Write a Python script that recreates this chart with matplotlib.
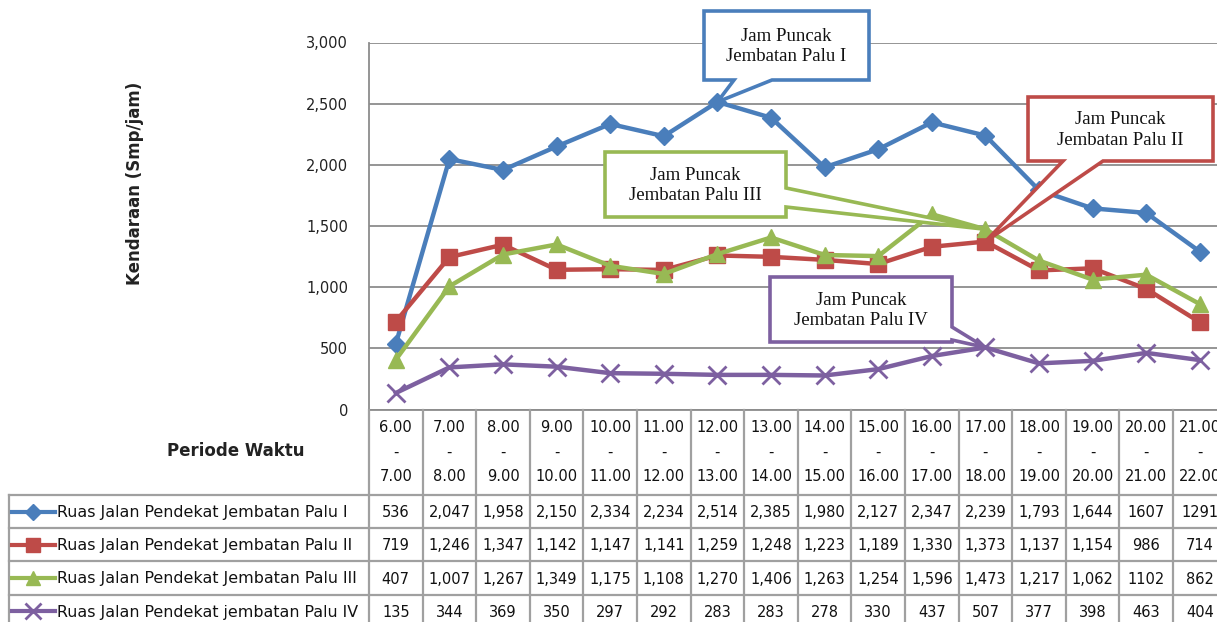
import matplotlib
matplotlib.use("Agg")
import matplotlib.pyplot as plt
from matplotlib.patches import Polygon
from matplotlib.ticker import FuncFormatter
import numpy as np

# ---------------- data ----------------
period_start = ["6.00", "7.00", "8.00", "9.00", "10.00", "11.00", "12.00", "13.00",
                "14.00", "15.00", "16.00", "17.00", "18.00", "19.00", "20.00", "21.00"]
period_end = ["7.00", "8.00", "9.00", "10.00", "11.00", "12.00", "13.00", "14.00",
              "15.00", "16.00", "17.00", "18.00", "19.00", "20.00", "21.00", "22.00"]
series_names = ["Ruas Jalan Pendekat Jembatan Palu I",
                "Ruas Jalan Pendekat Jembatan Palu II",
                "Ruas Jalan Pendekat Jembatan Palu III",
                "Ruas Jalan Pendekat jembatan Palu IV"]
palu1 = [536, 2047, 1958, 2150, 2334, 2234, 2514, 2385, 1980, 2127, 2347, 2239, 1793, 1644, 1607, 1291]
palu2 = [719, 1246, 1347, 1142, 1147, 1141, 1259, 1248, 1223, 1189, 1330, 1373, 1137, 1154, 986, 714]
palu3 = [407, 1007, 1267, 1349, 1175, 1108, 1270, 1406, 1263, 1254, 1596, 1473, 1217, 1062, 1102, 862]
palu4 = [135, 344, 369, 350, 297, 292, 283, 283, 278, 330, 437, 507, 377, 398, 463, 404]
callout_texts = ["Jam Puncak\nJembatan Palu I", "Jam Puncak\nJembatan Palu II",
                 "Jam Puncak\nJembatan Palu III", "Jam Puncak\nJembatan Palu IV"]
callout_idx = [6, 11, 11, 11]
no_comma_from = 14   # last two columns are shown without thousands separator
y_label = "Kendaraan (Smp/jam)"
x_label = "Periode Waktu"

series = [palu1, palu2, palu3, palu4]
colors = ["#4A7EBB", "#BE4B48", "#98B954", "#7D60A0"]
markers = ["D", "s", "^", "x"]
msizes = [9, 12, 12, 13]

# ---------------- layout (pixels) ----------------
W, H = 1217, 622
fig = plt.figure(figsize=(W / 100, H / 100), dpi=100)
n = len(period_start)
colw = 53.6
x0 = 369
x1 = x0 + n * colw
ytop, ybot = 42.5, 409.5

def fx(px):
    return px / W

def fy(py):
    return 1 - py / H

ax = fig.add_axes([fx(x0), fy(ybot), (x1 - x0) / W, (ybot - ytop) / H])
xs = np.arange(n)
ax.set_xlim(-0.5, n - 0.5)
ax.set_ylim(0, 3000)
ax.set_yticks(np.arange(0, 3001, 500))
ax.yaxis.set_major_formatter(FuncFormatter(lambda v, p: f"{int(v):,}"))
ax.grid(axis="y", color="#8C8C8C", lw=1.3)
ax.set_axisbelow(True)
ax.set_xticks([])
ax.tick_params(axis="y", length=0, pad=15, labelsize=10.5, labelcolor="#222222")
for s in ["top", "right"]:
    ax.spines[s].set_visible(False)
for s in ["left", "bottom"]:
    ax.spines[s].set_color("#8C8C8C")
    ax.spines[s].set_linewidth(1.3)

for vals, c, m, ms in zip(series, colors, markers, msizes):
    ax.plot(xs, vals, color=c, lw=3.2, marker=m, ms=ms, mew=2 if m == "x" else 1,
            mec=c, mfc=c, zorder=3, clip_on=False)

# y axis label
fig.text(fx(135), fy(183), y_label, rotation=90, ha="center", va="center",
         fontsize=12, fontweight="bold", color="#222222")

# ---------------- overlay (pixel coords) ----------------
ov = fig.add_axes([0, 0, 1, 1], zorder=5)
ov.set_xlim(0, W)
ov.set_ylim(H, 0)
ov.axis("off")
ov.patch.set_alpha(0)

grid_c = "#A0A0A0"
row_top = 495
row_h = 33.2
row_bot = row_top + 4 * row_h
for i in range(n + 1):
    xx = x0 + i * colw
    ov.plot([xx, xx], [ybot, row_bot], color=grid_c, lw=1.6, clip_on=False)
ov.plot([8.5, 8.5], [row_top, row_bot], color=grid_c, lw=1.6, clip_on=False)
for r in range(5):
    yy = row_top + r * row_h
    ov.plot([8.5, x1], [yy, yy], color=grid_c, lw=1.6, clip_on=False)

for i in range(n):
    cx = x0 + (i + 0.5) * colw
    ov.text(cx, 452, f"{period_start[i]}\n-\n{period_end[i]}", ha="center", va="center",
            fontsize=10.5, linespacing=1.8, color="#111111")

ov.text(236, 451, x_label, ha="center", va="center", fontsize=12, fontweight="bold",
        color="#222222")

for r, (vals, c, m, ms, name) in enumerate(zip(series, colors, markers, msizes, series_names)):
    cy = row_top + (r + 0.5) * row_h
    ov.plot([12, 55], [cy, cy], color=c, lw=3)
    ov.plot([33], [cy], marker=m, ms=ms * 0.85, color=c, mew=2 if m == "x" else 1)
    ov.text(57, cy + 1, name, ha="left", va="center", fontsize=11.4, color="#111111")
    for i, v in enumerate(vals):
        s = f"{v:,}" if i < no_comma_from else f"{v}"
        ov.text(x0 + (i + 0.5) * colw, cy + 1, s, ha="center", va="center",
                fontsize=10.5, color="#111111")

# ---------------- callouts ----------------
def tip_px(si):
    i = callout_idx[si]
    dx, dy = ax.transData.transform((xs[i], series[si][i]))
    return dx, H - dy

def callout(box, side, base, tip, color, text):
    l, t, r, b = box
    if side == "bottom":
        verts = [(l, t), (r, t), (r, b), (base[1], b), tip, (base[0], b), (l, b)]
    else:
        verts = [(l, t), (r, t), (r, base[0]), tip, (r, base[1]), (r, b), (l, b)]
    ov.add_patch(Polygon(verts, closed=True, facecolor="white", edgecolor=color,
                         lw=2.6, joinstyle="miter", zorder=6))
    ov.text((l + r) / 2, (t + b) / 2 + 1, text, ha="center", va="center",
            fontsize=13.5, family="Liberation Serif", linespacing=1.3,
            color="#111111", zorder=7)

callout((704, 11, 869, 80), "bottom", (734, 772), tip_px(0), colors[0], callout_texts[0])
callout((1028, 97, 1213, 161), "bottom", (1063, 1103), tip_px(1), colors[1], callout_texts[1])
callout((605, 152, 786, 217), "right", (188, 207), tip_px(2), colors[2], callout_texts[2])
callout((770, 277, 952, 342), "right", (327, 340), tip_px(3), colors[3], callout_texts[3])

fig.savefig("out.png", dpi=100)
